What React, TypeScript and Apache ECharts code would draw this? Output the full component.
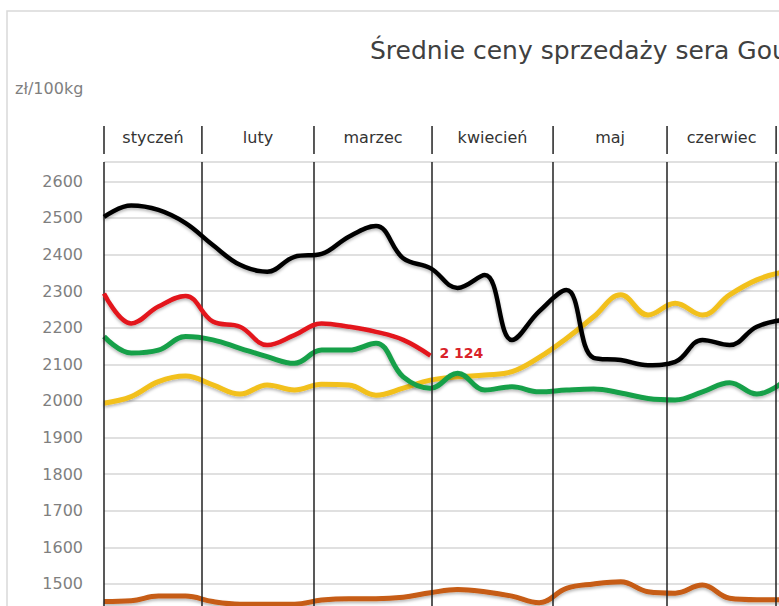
import React, { useEffect, useRef } from "react";
import * as echarts from "echarts";

const titleText = "Średnie ceny sprzedaży sera Gouda";
const unitText = "zł/100kg";
const monthNames = ["styczeń", "luty", "marzec", "kwiecień", "maj", "czerwiec"];
// month boundaries expressed in weeks
const monthBoundaries = [0, 3.6, 7.72, 12.06, 16.51, 20.7, 24.71];

const blackValues = [2503, 2534, 2522, 2486, 2426, 2372, 2353, 2394, 2402, 2449, 2478, 2390, 2363, 2309, 2344, 2167, 2245, 2303, 2118, 2112, 2098, 2107, 2167, 2153, 2203, 2222];
const redValues = [2294, 2212, 2258, 2287, 2217, 2203, 2153, 2180, 2212, 2203, 2189, 2167, 2124];
const greenValues = [2176, 2131, 2139, 2176, 2167, 2144, 2121, 2103, 2139, 2139, 2158, 2066, 2035, 2076, 2030, 2039, 2025, 2030, 2033, 2022, 2007, 2003, 2025, 2050, 2019, 2053];
const yellowValues = [1994, 2012, 2053, 2068, 2044, 2019, 2044, 2030, 2046, 2044, 2016, 2035, 2057, 2066, 2071, 2080, 2119, 2171, 2230, 2290, 2235, 2267, 2235, 2290, 2331, 2353];
const orangeValues = [1452, 1454, 1467, 1467, 1452, 1445, 1445, 1445, 1456, 1460, 1460, 1464, 1476, 1485, 1479, 1467, 1449, 1488, 1500, 1506, 1479, 1475, 1497, 1461, 1457, 1457];
const redEndLabel = "2 124";

const FONT = "DejaVu Sans";

const toPairs = (vals: number[]) => vals.map((v, i) => [i, v]);

const shadow = {
  shadowColor: "rgba(0,0,0,0.28)",
  shadowBlur: 3,
  shadowOffsetY: 2,
};

export default function App() {
  const ref = useRef<HTMLDivElement>(null);

  useEffect(() => {
    if (!ref.current) return;
    const chart = echarts.init(ref.current, undefined, { renderer: "svg" });
    const option: any = {
      animation: false,
      backgroundColor: "#ffffff",
      title: {
        text: titleText,
        left: 365,
        top: 33,
        textStyle: { fontFamily: FONT, fontSize: 25, fontWeight: "normal", color: "#404040" },
      },
      grid: { left: 104, top: 162, width: 27.2 * 36, height: (2653 - 1400) * 0.366 },
      xAxis: {
        type: "value",
        min: 0,
        max: 36,
        show: false,
        splitLine: { show: false },
      },
      yAxis: {
        type: "value",
        min: 1400,
        max: 2653,
        interval: 100,
        axisLine: { show: false },
        axisTick: { show: false },
        axisLabel: {
          margin: 21,
          color: "#7f7f7f",
          fontFamily: FONT,
          fontSize: 16,
          showMinLabel: false,
          formatter: (v: number) => (v % 100 === 0 && v > 1400 ? String(v) : ""),
        },
        splitLine: { show: true, lineStyle: { color: "#d6d6d6", width: 1.5 } },
      },
      series: [
        {
          type: "line",
          name: "orange",
          data: toPairs(orangeValues),
          smooth: 0.4,
          symbol: "none",
          lineStyle: { color: "#c65b12", width: 5, ...shadow },
          z: 2,
          markLine: {
            silent: true,
            symbol: "none",
            label: { show: false },
            lineStyle: { color: "#222222", width: 1.5, type: "solid" },
            data: monthBoundaries.map((b) => ({ xAxis: b })),
          },
        },
        {
          type: "line",
          name: "yellow",
          data: toPairs(yellowValues),
          smooth: 0.4,
          symbol: "none",
          lineStyle: { color: "#f2c01b", width: 5, ...shadow },
          z: 3,
        },
        {
          type: "line",
          name: "green",
          data: toPairs(greenValues),
          smooth: 0.4,
          symbol: "none",
          lineStyle: { color: "#18a049", width: 5, ...shadow },
          z: 4,
        },
        {
          type: "line",
          name: "red",
          data: toPairs(redValues),
          smooth: 0.4,
          symbol: "none",
          lineStyle: { color: "#e3141c", width: 4.5, ...shadow },
          z: 5,
          endLabel: {
            show: true,
            formatter: () => redEndLabel,
            color: "#d9232a",
            fontWeight: "bold",
            fontFamily: FONT,
            fontSize: 14,
            distance: 9,
            offset: [0, -3],
          },
        },
        {
          type: "line",
          name: "black",
          data: toPairs(blackValues),
          smooth: 0.4,
          symbol: "none",
          lineStyle: { color: "#000000", width: 4.5, ...shadow },
          z: 6,
        },
      ],
    };
    chart.setOption(option);

    const px = (v: number) => chart.convertToPixel({ xAxisIndex: 0 }, v) as number;
    const graphics: any[] = [
      {
        type: "rect",
        shape: { x: 7, y: 11, width: 1400, height: 1000 },
        style: { fill: "none", stroke: "#d9d9d9", lineWidth: 1.5 },
        silent: true,
        z: -1,
      },
      {
        type: "text",
        x: 15,
        y: 88,
        style: {
          text: unitText,
          fill: "#7f7f7f",
          font: `16px "${FONT}"`,
          textAlign: "left",
          textVerticalAlign: "middle",
        },
      },
    ];
    monthBoundaries.forEach((b) => {
      const x = px(b);
      graphics.push({
        type: "line",
        shape: { x1: x, y1: 126, x2: x, y2: 154 },
        style: { stroke: "#222222", lineWidth: 1.5 },
        silent: true,
      });
    });
    monthNames.forEach((m, i) => {
      const x = (px(monthBoundaries[i]) + px(monthBoundaries[i + 1])) / 2;
      graphics.push({
        type: "text",
        x,
        y: 137,
        style: {
          text: m,
          fill: "#333333",
          font: `16px "${FONT}"`,
          textAlign: "center",
          textVerticalAlign: "middle",
        },
      });
    });
    chart.setOption({ graphic: graphics });

    return () => chart.dispose();
  }, []);

  return (
    <div style={{ position: "absolute", left: 0, top: 0, width: 779, height: 606, overflow: "hidden", background: "#fff" }}>
      <div ref={ref} style={{ width: 1100, height: 700 }} />
    </div>
  );
}
